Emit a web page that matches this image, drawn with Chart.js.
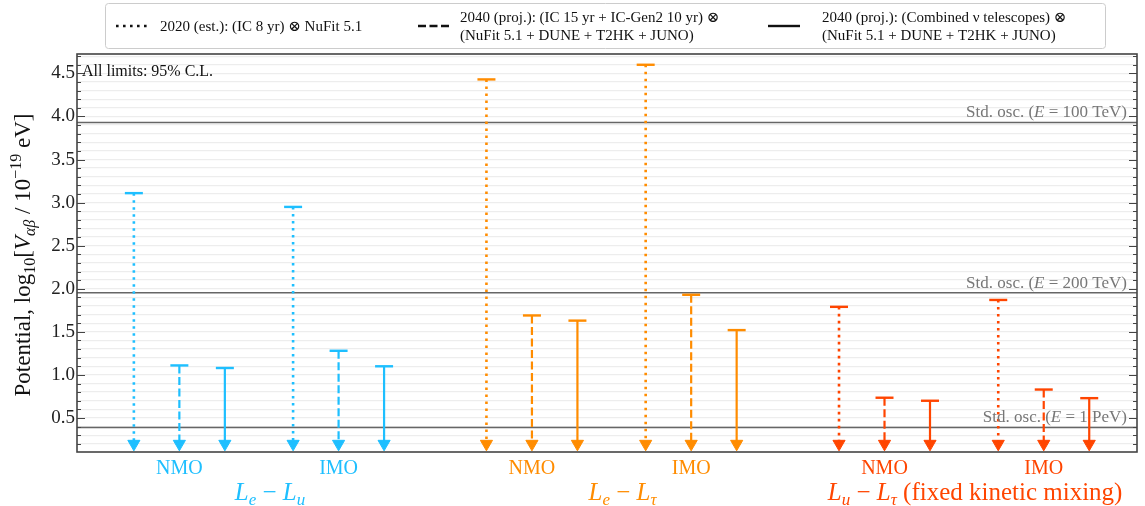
<!DOCTYPE html>
<html>
<head>
<meta charset="utf-8">
<script src="https://cdn.jsdelivr.net/npm/chart.js@4/dist/chart.umd.min.js"></script>
<style>
  html, body { margin: 0; padding: 0; background: #fff; }
  #wrap { width: 1145px; height: 506px; position: relative; }
</style>
</head>
<body>
<div id="wrap"><canvas id="limits"></canvas></div>
<script>
// ---- DATA ----
const flavours = ['Le-Lmu', 'Le-Ltau', 'Lmu-Ltau'];
const orderings = ['NMO', 'IMO'];
// upper limits, order: [Le-Lmu NMO, Le-Lmu IMO, Le-Ltau NMO, Le-Ltau IMO, Lmu-Ltau NMO, Lmu-Ltau IMO]
const limits2020 = [3.11, 2.95, 4.43, 4.60, 1.79, 1.87];
const limits2040IC = [1.11, 1.28, 1.69, 1.93, 0.735, 0.83];
const limits2040Comb = [1.08, 1.10, 1.63, 1.52, 0.70, 0.73];
const arrowFloor = 0.2;
const stdOscLevels = [3.93, 1.955, 0.39];
const stdOscLabels = ['100 TeV', '200 TeV', '1 PeV'];
const yTickLabels = ['0.5', '1.0', '1.5', '2.0', '2.5', '3.0', '3.5', '4.0', '4.5'];

const FONT = "'Liberation Serif', 'DejaVu Serif', serif";
const flavourColors = ['#1ebfff', '#ff8c00', '#ff4500'];
const seriesList = [
  { values: limits2020, dash: [2.6, 4.4] },
  { values: limits2040IC, dash: [8, 3.5] },
  { values: limits2040Comb, dash: [] },
];

// x layout (axis units)
function flavourCentre(f) { return 4.0 + 7.75 * f; }
function groupCentre(f, o) { return flavourCentre(f) + (o === 0 ? -1.75 : 1.75); }

// ---- DATASETS ----
const datasets = [];
stdOscLevels.forEach(lvl => {
  datasets.push({
    data: [{ x: 0, y: lvl }, { x: 23.3, y: lvl }],
    borderColor: '#666', borderWidth: 1.5, pointRadius: 0, order: 5,
  });
});
seriesList.forEach((s, si) => {
  flavours.forEach((fl, f) => {
    const pts = [];
    orderings.forEach((ord, o) => {
      const x = groupCentre(f, o) + (si - 1);
      pts.push({ x, y: s.values[f * 2 + o] }, { x, y: arrowFloor }, { x, y: null });
    });
    datasets.push({
      data: pts,
      borderColor: flavourColors[f],
      backgroundColor: flavourColors[f],
      borderWidth: si === 0 ? 2.6 : 2.2,
      borderDash: s.dash,
      borderCapStyle: 'butt',
      spanGaps: false,
      order: 1,
      pointStyle: c => (c.dataIndex % 3 === 0 ? 'line' : 'triangle'),
      rotation: c => (c.dataIndex % 3 === 1 ? 180 : 0),
      pointRadius: c => [9, 7, 0][c.dataIndex % 3],
      pointBorderWidth: c => (c.dataIndex % 3 === 0 ? 2.4 : 1),
      pointBorderColor: flavourColors[f],
      pointBackgroundColor: flavourColors[f],
    });
  });
});

// ---- RICH TEXT ----
function runsWidth(ctx, runs) {
  let w = 0;
  runs.forEach(r => { ctx.font = (r.italic ? 'italic ' : '') + r.size + 'px ' + FONT; w += ctx.measureText(r.t).width; });
  return w;
}
function drawRuns(ctx, runs, x, y, align) {
  const w = runsWidth(ctx, runs);
  let cx = align === 'center' ? x - w / 2 : align === 'right' ? x - w : x;
  ctx.textAlign = 'left';
  ctx.textBaseline = 'alphabetic';
  runs.forEach(r => {
    ctx.font = (r.italic ? 'italic ' : '') + r.size + 'px ' + FONT;
    ctx.fillText(r.t, cx, y + (r.dy || 0));
    cx += ctx.measureText(r.t).width;
  });
}

// ---- DECORATION PLUGIN ----
const decor = {
  id: 'decor',
  afterDatasetsDraw(chart) {
    const ctx = chart.ctx;
    const a = chart.chartArea;
    const ys = chart.scales.y, xs = chart.scales.x;
    ctx.save();

    // std. osc. labels
    ctx.fillStyle = '#777';
    stdOscLevels.forEach((lvl, i) => {
      const py = ys.getPixelForValue(lvl) - 5;
      drawRuns(ctx, [
        { t: 'Std. osc. (', size: 17 }, { t: 'E', size: 17, italic: true },
        { t: ' = ' + stdOscLabels[i] + ')', size: 17 },
      ], a.right - 10, py, 'right');
    });

    // frame
    ctx.strokeStyle = '#444';
    ctx.lineWidth = 1.6;
    ctx.strokeRect(a.left, a.top, a.right - a.left, a.bottom - a.top);

    // inward ticks, both sides
    ctx.lineWidth = 1.2;
    ys.ticks.forEach(t => {
      const py = Math.round(ys.getPixelForValue(t.value)) + 0.5;
      const major = Math.abs(t.value * 2 - Math.round(t.value * 2)) < 1e-6;
      const len = major ? 8 : 4;
      ctx.beginPath();
      ctx.moveTo(a.left, py); ctx.lineTo(a.left + len, py);
      ctx.moveTo(a.right, py); ctx.lineTo(a.right - len, py);
      ctx.stroke();
    });

    // note
    ctx.fillStyle = '#111';
    drawRuns(ctx, [{ t: 'All limits: 95% C.L.', size: 16 }], a.left + 5, a.top + 22, 'left');

    // ordering + flavour labels
    const flavourRuns = [
      [{ t: 'L', italic: true }, { t: 'e', italic: true, sub: true }, { t: ' − ' }, { t: 'L', italic: true }, { t: 'u', italic: true, sub: true }],
      [{ t: 'L', italic: true }, { t: 'e', italic: true, sub: true }, { t: ' − ' }, { t: 'L', italic: true }, { t: 'τ', italic: true, sub: true }],
      [{ t: 'L', italic: true }, { t: 'u', italic: true, sub: true }, { t: ' − ' }, { t: 'L', italic: true }, { t: 'τ', italic: true, sub: true }, { t: ' (fixed kinetic mixing)' }],
    ];
    flavours.forEach((fl, f) => {
      ctx.fillStyle = flavourColors[f];
      orderings.forEach((ord, o) => {
        drawRuns(ctx, [{ t: ord, size: 20 }], xs.getPixelForValue(groupCentre(f, o)), 474, 'center');
      });
      const runs = flavourRuns[f].map(r => ({ t: r.t, italic: r.italic, size: r.sub ? 17 : 25, dy: r.sub ? 5 : 0 }));
      drawRuns(ctx, runs, xs.getPixelForValue(flavourCentre(f)) + 11, 500, 'center');
    });

    // y title
    ctx.fillStyle = '#111';
    ctx.translate(30, 255);
    ctx.rotate(-Math.PI / 2);
    drawRuns(ctx, [
      { t: 'Potential, log', size: 23 }, { t: '10', size: 16, dy: 5 }, { t: '[', size: 23 },
      { t: 'V', size: 23, italic: true }, { t: 'αβ', size: 16, italic: true, dy: 5 },
      { t: ' / 10', size: 23 }, { t: '−19', size: 16, dy: -9 }, { t: ' eV]', size: 23 },
    ], 0, 0, 'center');
    ctx.restore();

    // legend
    ctx.save();
    const lx = 105, ly = 3, lw = 1000, lh = 45;
    ctx.fillStyle = '#fff';
    ctx.strokeStyle = '#ccc';
    ctx.lineWidth = 1;
    ctx.beginPath();
    ctx.roundRect(lx + 0.5, ly + 0.5, lw, lh, 3);
    ctx.fill(); ctx.stroke();
    const entries = [
      { x: 116, dash: [2.6, 4.4], lines: ['2020 (est.): (IC 8 yr) ⊗ NuFit 5.1'] },
      { x: 418, dash: [8, 3.5], lines: ['2040 (proj.): (IC 15 yr + IC-Gen2 10 yr) ⊗', '(NuFit 5.1 + DUNE + T2HK + JUNO)'] },
      { x: 768, dash: [], lines: ['2040 (proj.): (Combined ν telescopes) ⊗', '(NuFit 5.1 + DUNE + T2HK + JUNO)'] },
    ];
    entries.forEach(e => {
      ctx.strokeStyle = '#111';
      ctx.lineWidth = 2.4;
      ctx.setLineDash(e.dash);
      ctx.beginPath();
      ctx.moveTo(e.x, 26); ctx.lineTo(e.x + 32, 26);
      ctx.stroke();
      ctx.setLineDash([]);
      ctx.fillStyle = '#111';
      const tx = e.x + (e.lines.length === 1 ? 44 : 42 + (e.x > 700 ? 12 : 0));
      if (e.lines.length === 1) {
        drawRuns(ctx, [{ t: e.lines[0], size: 15 }], tx, 31, 'left');
      } else {
        drawRuns(ctx, [{ t: e.lines[0], size: 15 }], tx, 22, 'left');
        drawRuns(ctx, [{ t: e.lines[1], size: 15 }], tx, 40, 'left');
      }
    });
    ctx.restore();
  }
};

// ---- CHART ----
new Chart(document.getElementById('limits'), {
  type: 'line',
  data: { datasets },
  plugins: [decor],
  options: {
    responsive: true,
    maintainAspectRatio: false,
    animation: false,
    events: [],
    layout: { autoPadding: false, padding: { top: 54, bottom: 54, left: 0, right: 8 } },
    plugins: { legend: { display: false }, tooltip: { enabled: false } },
    scales: {
      x: { type: 'linear', min: 0, max: 23.3, display: false },
      y: {
        type: 'linear', min: 0.105, max: 4.725,
        afterFit: s => { s.width = 77; },
        border: { display: false },
        grid: { color: '#ededed', lineWidth: 1.3, drawTicks: false },
        ticks: {
          stepSize: 0.1, includeBounds: false, autoSkip: false, padding: 2,
          color: '#222', font: { family: FONT, size: 19 },
          callback: v => {
            const k = Math.round(v * 2);
            return Math.abs(v * 2 - k) < 1e-6 && k >= 1 ? (yTickLabels[k - 1] || '') : '';
          }
        }
      }
    }
  }
});
</script>
</body>
</html>
